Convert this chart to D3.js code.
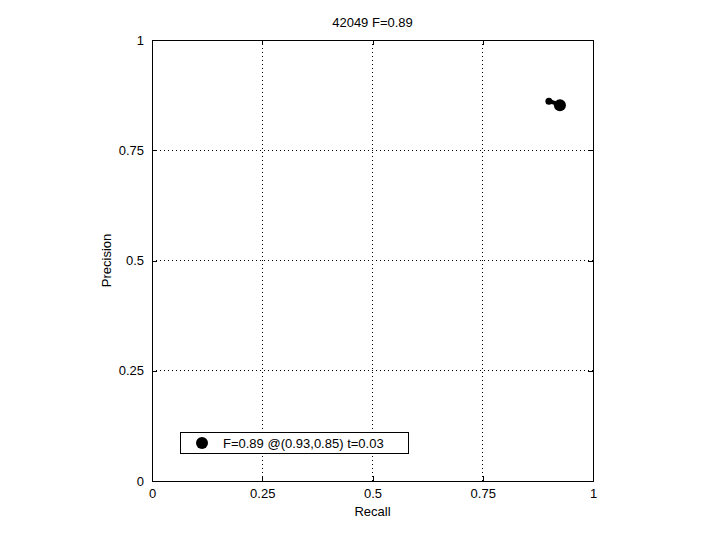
<!DOCTYPE html>
<html><head><meta charset="utf-8">
<script src="https://cdn.jsdelivr.net/npm/d3@7"></script>
<style>body{margin:0;background:#fff}text{font-family:"Liberation Sans",Arial,sans-serif;font-size:13px;fill:#000}</style>
</head><body>
<svg id="c" width="720" height="540"></svg>
<script>
const titleText = "42049 F=0.89";
const xLabel = "Recall";
const yLabel = "Precision";
const tickValues = [0, 0.25, 0.5, 0.75, 1];
const tickLabels = ["0", "0.25", "0.5", "0.75", "1"];
const curveRecall = [0.900, 0.905, 0.911, 0.917, 0.922, 0.925];
const curvePrecision = [0.861, 0.860, 0.858, 0.856, 0.853, 0.852];
const bestPoint = [0.925, 0.852];
const legendText = "F=0.89 @(0.93,0.85) t=0.03";

const svg = d3.select("#c");
const L = 152, R = 593, T = 40, B = 481;
const x = d3.scaleLinear().domain([0, 1]).range([L, R]);
const y = d3.scaleLinear().domain([0, 1]).range([B, T]);

// grid
const g = svg.append("g");
tickValues.slice(1, -1).forEach(v => {
  g.append("line").attr("x1", x(v)).attr("x2", x(v)).attr("y1", T).attr("y2", B)
    .attr("stroke", "#000").attr("stroke-width", 1).attr("stroke-dasharray", "1,3").attr("shape-rendering", "crispEdges");
  g.append("line").attr("y1", y(v)).attr("y2", y(v)).attr("x1", L).attr("x2", R)
    .attr("stroke", "#000").attr("stroke-width", 1).attr("stroke-dasharray", "1,3").attr("shape-rendering", "crispEdges");
});

// axes
const fmt = d => tickLabels[tickValues.indexOf(d)];
const xAxis = d3.axisBottom(x).tickValues(tickValues).tickFormat(fmt).tickSize(-5).tickPadding(8);
const yAxis = d3.axisLeft(y).tickValues(tickValues).tickFormat(fmt).tickSize(-5).tickPadding(8);
const xTop = d3.axisTop(x).tickValues(tickValues).tickFormat("").tickSize(-5);
const yRight = d3.axisRight(y).tickValues(tickValues).tickFormat("").tickSize(-5);
[[xAxis, `translate(0,${B})`], [yAxis, `translate(${L},0)`], [xTop, `translate(0,${T})`], [yRight, `translate(${R},0)`]].forEach(([a, t]) => {
  const ag = svg.append("g").attr("transform", t).call(a);
  ag.select(".domain").attr("stroke", "#000").attr("shape-rendering", "crispEdges");
  ag.selectAll(".tick line").attr("stroke", "#000").attr("shape-rendering", "crispEdges");
  ag.selectAll("text").style("font-family", '"Liberation Sans",Arial,sans-serif').style("font-size", "13px").attr("fill", "#000");
});

// labels
svg.append("text").attr("x", (L + R) / 2).attr("y", 27).attr("text-anchor", "middle").text(titleText);
svg.append("text").attr("x", (L + R) / 2).attr("y", 516).attr("text-anchor", "middle").text(xLabel);
svg.append("text").attr("transform", `translate(111,${(T + B) / 2}) rotate(-90)`).attr("text-anchor", "middle").text(yLabel);

// curve
const line = d3.line().x((d, i) => x(curveRecall[i])).y((d, i) => y(curvePrecision[i]));
svg.append("path").datum(curveRecall).attr("d", line).attr("fill", "none").attr("stroke", "#000").attr("stroke-width", 4).attr("stroke-linecap", "round");
svg.append("circle").attr("cx", x(curveRecall[0])).attr("cy", y(curvePrecision[0])).attr("r", 3.5).attr("fill", "#000");
svg.append("circle").attr("cx", x(bestPoint[0])).attr("cy", y(bestPoint[1])).attr("r", 6).attr("fill", "#000");

// legend
const lg = svg.append("g");
lg.append("rect").attr("x", 180.5).attr("y", 432.5).attr("width", 228).attr("height", 21).attr("fill", "#fff").attr("stroke", "#000");
lg.append("circle").attr("cx", 202).attr("cy", 443).attr("r", 6).attr("fill", "#000");
lg.append("text").attr("x", 223).attr("y", 448).text(legendText);
</script>
</body></html>
